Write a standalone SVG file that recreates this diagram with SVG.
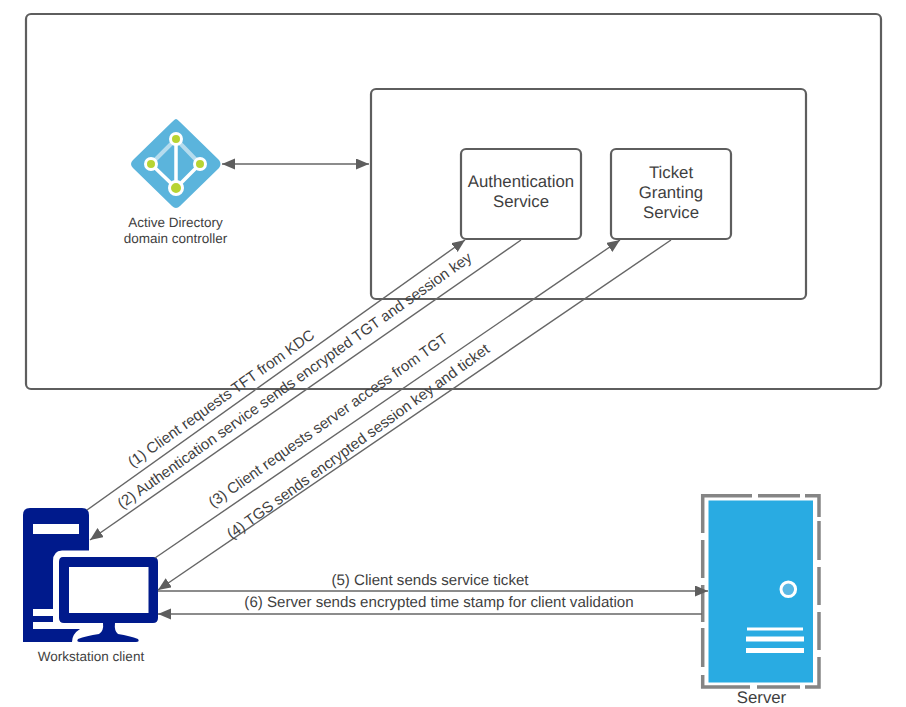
<svg xmlns="http://www.w3.org/2000/svg" width="906" height="707" viewBox="0 0 906 707">
<style>
.box{fill:#fff;stroke:#5e5e5e;stroke-width:2.2}
.c{fill:none;stroke:#666;stroke-width:1.4}
text{font-family:"Liberation Sans",Arial,sans-serif;fill:#3f3f3f;text-rendering:geometricPrecision}
.t{font-size:16.8px;text-anchor:middle}
.s{font-size:13.5px;text-anchor:middle}
.l{font-size:15.100px;text-anchor:middle}
.w{fill:#fff}
.b{fill:#001a8c}
</style>
<defs>
<marker id="a" markerUnits="userSpaceOnUse" markerWidth="14" markerHeight="12" refX="13" refY="5.5" orient="auto-start-reverse"><path d="M0 0L13 5.5L0 11Z" fill="#5e5e5e"/></marker>
</defs>
<rect width="906" height="707" fill="#fff"/>
<g id="outer"><rect class="box" x="26" y="14" width="855" height="375" rx="5"/></g>
<g id="kdc"><rect class="box" x="371" y="89" width="435" height="210" rx="5"/></g>
<g id="as"><rect class="box" x="461" y="149" width="120" height="90" rx="5"/><text class="t" x="521" y="187">Authentication</text><text class="t" x="521" y="207">Service</text></g>
<g id="tgs"><rect class="box" x="611" y="149" width="120" height="90" rx="5"/><text class="t" x="671" y="178">Ticket</text><text class="t" x="671" y="198">Granting</text><text class="t" x="671" y="218">Service</text></g>
<g id="ad">
<path d="M176 119Q177 119 180 122L219 160Q222 164 219 168L180 206Q176 210 172 206L133 168Q129 164 133 160L172 122Q175 119 176 119Z" fill="#5bb4dc"/>
<path d="M176 139L151 164M176 139L200 164" stroke="#b5dcee" stroke-width="4" fill="none"/>
<path d="M176 139V188M151 164L176 188L200 164" stroke="#fff" stroke-width="3.5" fill="none"/>
<g fill="#b8d432" stroke="#fff" stroke-width="3"><circle cx="176" cy="139" r="5.5"/><circle cx="151" cy="164" r="5.5"/><circle cx="200" cy="164" r="5.5"/><circle cx="176" cy="188" r="6.5"/></g>
<text class="s" x="175.500" y="227">Active Directory</text><text class="s" x="175.500" y="243">domain controller</text>
</g>
<g id="workstation">
<path class="b" d="M30 508H82Q89 508 89 515V550.500H62Q53 551 53 561V642H23V515Q23 508 30 508Z"/>
<rect class="w" x="33" y="524" width="46" height="10"/>
<rect class="w" x="33" y="609" width="21" height="7"/><rect class="w" x="33" y="622" width="47" height="7"/>
<path class="b" d="M53 629H80Q72 634 72 642H23V629Z"/>
<path class="b" d="M63 557H153Q158 557 158 562V618Q158 623 153 623H115Q114 631 118 634Q130 636 138 639Q140 642 136 642H80Q76 642 78 639Q86 636 99 634Q104 631 103 623H64Q59 623 59 618V562Q59 557 63 557Z"/>
<rect class="w" x="69" y="567" width="79.500" height="46"/>
<text class="s" x="91" y="661">Workstation client</text>
</g>
<g id="server">
<path d="M702.700 533V495.700H752M758 495.700H800M805 495.700H819V517M819 521V560M819 567V605M819 612V650M819 657V687H805M800 687H757M750 687H702.700V675M702.700 667V628M702.700 622V585M702.700 578V540" fill="none" stroke="#858585" stroke-width="3.500"/>
<rect x="708.500" y="500.500" width="104.500" height="182" fill="#29abe2"/>
<circle cx="788.300" cy="589.300" r="7.300" fill="#5bb8e4" stroke="#fff" stroke-width="3"/>
<rect class="w" x="747" y="627.500" width="56" height="3"/><rect class="w" x="746" y="636.500" width="58" height="5"/><rect class="w" x="746" y="648" width="58" height="5"/>
<text class="t" x="761.500" y="703">Server</text>
</g>
<g id="connectors">
<path class="c" d="M222 164H369" marker-start="url(#a)" marker-end="url(#a)"/>
<path class="c" d="M87 510L465 240" marker-end="url(#a)"/>
<path class="c" d="M521 240L90 540" marker-end="url(#a)"/>
<path class="c" d="M155 558L620 240" marker-end="url(#a)"/>
<path class="c" d="M671 240L158 590" marker-end="url(#a)"/>
<path class="c" d="M158 591H708" marker-end="url(#a)"/>
<path class="c" d="M702 614H158" marker-end="url(#a)"/>
</g>
<g id="labels">
<text class="l" transform="translate(224 402.500) rotate(-35.500)">(1) Client requests TFT from KDC</text>
<text class="l" transform="translate(297.500 384.500) rotate(-35.400)">(2) Authentication service sends encrypted TGT and session key</text>
<text class="l" transform="translate(331 424.500) rotate(-35.300)">(3) Client requests server access from TGT</text>
<text class="l" transform="translate(361 445.500) rotate(-36)">(4) TGS sends encrypted session key and ticket</text>
<text class="l" x="430" y="585">(5) Client sends service ticket</text>
<text class="l" x="439" y="607">(6) Server sends encrypted time stamp for client validation</text>
</g>
</svg>
